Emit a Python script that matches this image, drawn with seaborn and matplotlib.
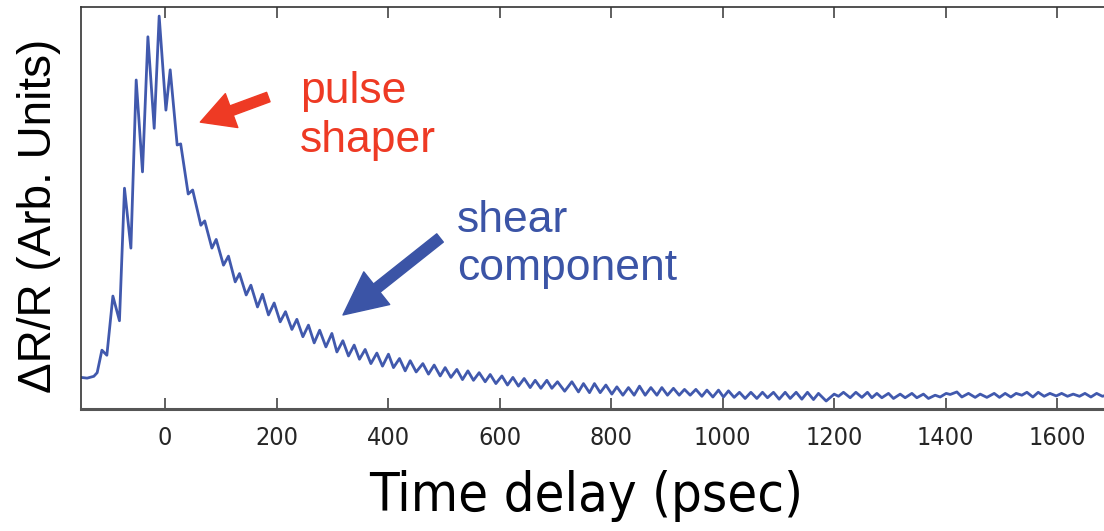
import numpy as np
import pandas as pd
import matplotlib
matplotlib.use("Agg")
import matplotlib.pyplot as plt
from matplotlib import font_manager
import seaborn as sns

# Pump-probe trace (peaks and troughs of the ringing)
delay_ps = [
    -151, -140, -128, -122, -113.5, -104.6, -93.8, -82.0, -73.0, -61.5,
    -52.0, -40.7, -31.0, -19.7, -10.8, 1.3, 9.0, 21.5, 27.8, 41.3,
    49.3, 64.0, 70.9, 83.8, 91.5, 104.6, 113.5, 125.6, 133.3, 145.3,
    153.7, 165.6, 174.5, 185.3, 195.5, 206.3, 215.8, 227.3, 236.2, 247.0,
    257.0, 267.3, 277.1, 288.3, 299.0, 308.0, 318.7, 328.8, 339.0, 348.5,
    358.7, 369.0, 379.7, 389.8, 400.5, 409.5, 420.3, 430.5, 439.5, 450.2,
    462.2, 472.3, 482.5, 493.3, 502.2, 512.5, 523.2, 533.3, 543.0, 553.0,
    563.2, 574.0, 583.0, 593.2, 604.0, 614.0, 623.7, 633.7, 643.9, 654.7,
    663.7, 673.9, 684.6, 693.6, 703.7, 716.6, 729.5, 741.3, 750.3, 761.1,
    770.0, 780.3, 790.5, 801.2, 810.2, 821.0, 831.0, 841.2, 850.8, 861.0,
    871.2, 882.0, 890.9, 901.0, 911.7, 922.0, 931.5, 941.7, 951.9, 962.7,
    971.7, 982.4, 992.5, 1001.4, 1010.4, 1020.6, 1030.1, 1040.3, 1050.6, 1061.3,
    1071.4, 1080.4, 1091.1, 1101.3, 1112.1, 1121.1, 1131.8, 1142.0, 1152.1, 1162.9,
    1171.8, 1185.6, 1200.0, 1207.7, 1216.7, 1228.7, 1238.9, 1249.7, 1259.7, 1267.6,
    1276.6, 1285.5, 1297.4, 1306.4, 1318.4, 1327.3, 1339.4, 1348.3, 1360.1, 1369.1,
    1381.1, 1390.1, 1400.9, 1408.1, 1420.1, 1429.0, 1440.9, 1452.9, 1461.9, 1473.9,
    1487.0, 1496.5, 1506.7, 1516.9, 1526.4, 1536.6, 1545.7, 1556.4, 1566.0, 1576.7,
    1587.0, 1598.3, 1608.0, 1618.5, 1628.8, 1640.0, 1649.8, 1660.5, 1670.8, 1681.2,
    1690,
]
dr_over_r = [
    0.2, 0.0, 0.5, 1.5, 7.7, 6.3, 22.6, 15.8, 52.3, 35.8,
    82.1, 56.8, 94.0, 68.8, 99.7, 73.8, 84.9, 64.2, 64.5, 50.7,
    51.8, 42.1, 43.3, 35.8, 38.2, 31.1, 33.6, 26.5, 28.8, 22.9,
    25.6, 19.6, 23.1, 17.4, 20.7, 15.5, 18.3, 13.4, 16.2, 11.4,
    14.6, 9.7, 13.2, 8.6, 12.3, 7.2, 10.3, 6.1, 9.1, 5.2,
    7.9, 4.0, 6.9, 3.3, 6.6, 2.9, 5.4, 2.0, 4.8, 1.7,
    4.0, 1.1, 3.6, 0.6, 2.9, 0.2, 2.4, -0.4, 2.0, -0.6,
    1.5, -1.0, 1.0, -1.5, 0.6, -1.9, 0.2, -2.2, -0.1, -2.6,
    -0.6, -2.8, -0.6, -2.8, -1.0, -3.6, -1.0, -3.8, -1.5, -4.0,
    -1.5, -4.0, -1.9, -4.4, -2.4, -4.7, -2.6, -4.7, -2.2, -4.7,
    -2.6, -4.7, -2.6, -4.7, -2.8, -4.7, -3.1, -4.7, -3.1, -5.0,
    -3.3, -5.2, -3.3, -5.2, -3.5, -5.3, -3.9, -5.6, -3.9, -5.6,
    -3.9, -5.4, -3.9, -5.8, -3.9, -5.6, -3.9, -5.8, -3.9, -5.9,
    -4.2, -6.3, -4.4, -5.0, -3.9, -5.4, -3.9, -5.3, -3.9, -5.4,
    -4.2, -5.4, -4.2, -5.6, -4.4, -5.4, -4.2, -5.4, -4.4, -5.6,
    -4.7, -5.2, -4.2, -4.5, -3.8, -5.2, -4.2, -5.3, -4.4, -5.3,
    -4.2, -5.3, -4.2, -5.2, -4.2, -4.7, -3.9, -5.2, -3.9, -5.0,
    -4.2, -4.9, -4.2, -5.0, -4.4, -5.0, -4.2, -5.2, -4.2, -5.0,
    -4.6,
]
x_ticks = [0, 200, 400, 600, 800, 1000, 1200, 1400, 1600]

df = pd.DataFrame({"delay": delay_ps, "signal": dr_over_r})

line_blue = "#4159ad"
text_blue = "#3b54a6"
red = "#ee3a24"

sns.set_style("white")
plt.rcParams["font.family"] = ["Liberation Sans", "DejaVu Sans"]

# the axis numbers / x label are set in a narrow face; use one if installed
cond = [f for f in font_manager.fontManager.ttflist
        if f.stretch in ("condensed", "semi-condensed") or "Narrow" in f.name
        or "Condensed" in f.name]
if cond:
    pick = sorted(cond, key=lambda f: (f.name != "Liberation Sans Narrow", f.weight != 400))[0]
    narrow = dict(family=[pick.name, "Liberation Sans"], stretch=pick.stretch)
    tick_size, xlab_size = 18, 39
else:
    narrow = dict(family=["Liberation Sans"])
    tick_size, xlab_size = 17, 38

fig = plt.figure(figsize=(11.04, 5.31), dpi=100)
ax = fig.add_axes([81 / 1104, 122 / 531, 1023 / 1104, 402 / 531])

sns.lineplot(data=df, x="delay", y="signal", ax=ax, color=line_blue,
             linewidth=2.0, sort=False)

ax.set_xlim(-151, 1684)
ax.set_ylim(-8.5, 102.2)
ax.set_xticks(x_ticks)
ax.set_xticklabels([str(t) for t in x_ticks], fontsize=tick_size, **narrow)
ax.set_yticks([])
ax.set_xlabel("")
ax.set_ylabel("")
ax.tick_params(axis="x", direction="in", length=8, width=1.2, color="#444444",
               top=True, bottom=True, pad=12)

for side in ["left", "top"]:
    ax.spines[side].set_color("#333333")
    ax.spines[side].set_linewidth(1.2)
ax.spines["bottom"].set_color("#555555")
ax.spines["bottom"].set_linewidth(2.2)
ax.spines["right"].set_visible(False)

fig.text(39 / 1104, 315 / 531, "ΔR/R (Arb. Units)", rotation=90,
         ha="center", va="center", fontsize=33, color="black")
fig.text(586 / 1104, 35 / 531, "Time delay (psec)", ha="center", va="center",
         fontsize=xlab_size, color="black", **narrow)

# annotations, one text per line so the baselines land where they are drawn
ax.text(242, 75.8, "pulse", ha="left", va="baseline", fontsize=32, color=red)
ax.text(242, 62.3, "shaper", ha="left", va="baseline", fontsize=32, color=red)
ax.annotate("", xy=(63, 70.5), xytext=(185, 77.4),
            arrowprops=dict(arrowstyle="simple,head_length=1.2,head_width=1.3,tail_width=0.36",
                            mutation_scale=20, color=red, shrinkA=0, shrinkB=0))

ax.text(524, 40.2, "shear", ha="left", va="baseline", fontsize=32, color=text_blue)
ax.text(524, 27.0, "component", ha="left", va="baseline", fontsize=32, color=text_blue)
ax.annotate("", xy=(319, 17.4), xytext=(493, 38.6),
            arrowprops=dict(arrowstyle="simple,head_length=1.55,head_width=1.5,tail_width=0.38",
                            mutation_scale=20, color=text_blue, shrinkA=0, shrinkB=0))

fig.savefig("out.png", dpi=100, facecolor="white")
